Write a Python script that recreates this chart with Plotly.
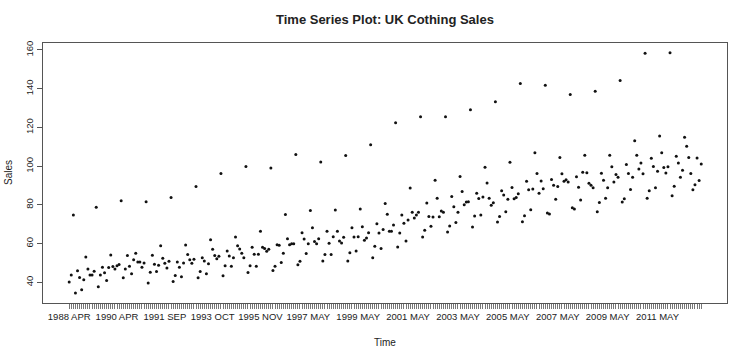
import plotly.graph_objects as go

sales = [
    40.3, 43.8, 74.8, 34.5, 46.0, 42.6, 36.2, 41.4, 53.2, 46.9, 43.9, 43.9, 45.8, 78.8,
    37.8, 43.8, 47.9, 45.0, 41.0, 47.7, 54.2, 48.2, 47.0, 48.6, 49.3, 82.2,
    42.4, 46.9, 53.9, 48.4, 44.5, 51.7, 55.1, 50.5, 50.5, 47.9, 50.1, 81.7,
    39.7, 45.3, 54.1, 49.4, 45.7, 48.9, 59.0, 52.5, 49.9, 47.5, 51.0, 83.9,
    40.5, 43.6, 50.5, 47.9, 42.9, 50.1, 59.4, 54.4, 51.7, 49.9, 52.0, 89.5,
    42.4, 45.7, 52.7, 51.1, 44.5, 49.6, 62.1, 57.1, 53.9, 52.2, 53.5, 96.2,
    43.5, 48.6, 56.3, 53.7, 48.4, 52.7, 63.5, 58.9, 57.3, 55.1, 52.7, 99.8,
    45.1, 48.6, 58.2, 54.6, 48.4, 54.6, 66.4, 58.2, 57.5, 56.1, 57.1, 99.1,
    46.2, 48.4, 59.5, 59.2, 50.3, 55.1, 75.1, 62.6, 59.5, 60.0, 60.0, 106.0,
    49.1, 51.0, 65.7, 62.4, 54.9, 60.0, 77.2, 68.3, 61.1, 60.0, 62.6, 102.2,
    51.1, 54.4, 66.4, 60.2, 54.4, 63.6, 77.4, 66.4, 61.4, 60.4, 63.3, 105.5,
    51.1, 55.4, 68.3, 63.5, 56.3, 63.6, 77.9, 68.8, 61.8, 63.0, 65.7, 111.1,
    52.7, 58.7, 70.3, 65.5, 57.5, 67.4, 80.7, 75.2, 66.4, 66.4, 69.7, 122.5,
    58.3, 65.5, 74.8, 70.5, 61.4, 72.2, 88.8, 76.3, 73.3, 74.8, 76.3, 125.5,
    63.5, 66.9, 81.0, 74.1, 69.0, 73.8, 92.8, 83.5, 73.9, 76.9, 76.3, 125.5,
    66.1, 69.1, 84.4, 79.1, 71.0, 76.2, 94.7, 87.0, 80.1, 81.5, 81.7, 129.1,
    68.6, 74.3, 86.1, 83.4, 74.8, 84.1, 99.5, 91.4, 83.5, 79.9, 81.1, 133.3,
    71.2, 74.1, 87.3, 85.2, 76.5, 83.0, 102.1, 89.0, 83.2, 83.9, 85.8, 142.7,
    71.4, 74.4, 92.3, 87.8, 77.5, 88.2, 106.9, 96.2, 86.1, 92.4, 88.4, 141.8,
    75.9, 75.3, 93.1, 90.2, 83.0, 89.5, 104.5, 96.1, 92.3, 93.0, 91.8, 137.0,
    78.6, 77.9, 94.5, 89.2, 82.5, 96.9, 105.7, 96.6, 91.2, 90.2, 88.9, 138.7,
    76.5, 81.3, 96.4, 92.8, 83.5, 88.9, 105.7, 99.7, 91.8, 95.7, 94.3, 144.2,
    81.5, 83.2, 100.9, 96.2, 88.0, 94.3, 113.2, 105.7, 98.6, 101.7, 96.1, 158.3,
    83.5, 87.3, 104.1, 99.8, 88.9, 97.4, 115.6, 107.0, 99.3, 96.5, 99.7, 158.6,
    84.7, 89.6, 105.1, 101.7, 94.3, 97.9, 114.9, 110.3, 104.5, 96.2, 87.8, 90.4,
    104.3, 92.6, 101.2,
]

tick_index = [0, 23, 46, 69, 92, 115, 139, 163, 187, 211, 235, 259, 283]
tick_text = ["1988 APR", "1990 APR", "1991 SEP", "1993 OCT", "1995 NOV", "1997 MAY",
             "1999 MAY", "2001 MAY", "2003 MAY", "2005 MAY", "2007 MAY", "2009 MAY",
             "2011 MAY"]

y_ticks = [40, 60, 80, 100, 120, 140, 160]

n = len(sales)
xs = list(range(n))
label_map = dict(zip(tick_index, tick_text))
all_ticktext = [label_map.get(i, "") for i in xs]

FONT = "Liberation Sans, Arial, sans-serif"
TXT = "#222222"
LINE = "#555555"

fig = go.Figure()
fig.add_trace(go.Scatter(
    x=xs, y=sales, mode="markers",
    marker=dict(color="#111111", size=3, symbol="circle", line=dict(width=0)),
    hoverinfo="x+y", showlegend=False,
))

fig.update_layout(
    width=750, height=358,
    margin=dict(l=43, r=23, t=43, b=55, autoexpand=False),
    paper_bgcolor="white", plot_bgcolor="white",
    font=dict(family=FONT, size=10, color=TXT),
    showlegend=False,
    annotations=[
        dict(text="<b>Time Series Plot: UK Cothing Sales</b>", xref="paper", yref="paper",
             x=0.5, y=1, yanchor="middle", yshift=24, showarrow=False,
             font=dict(size=13, family=FONT, color=TXT)),
        dict(text="Time", xref="paper", yref="paper", x=0.5, y=0, yanchor="middle",
             yshift=-39, showarrow=False, font=dict(size=10, family=FONT, color=TXT)),
        dict(text="Sales", xref="paper", yref="paper", x=0, y=0.5, xanchor="center",
             xshift=-35, textangle=-90, showarrow=False,
             font=dict(size=10, family=FONT, color=TXT)),
    ],
)

fig.update_xaxes(
    range=[-12.6, 316.4], tickmode="array", tickvals=xs, ticktext=all_ticktext,
    ticks="outside", ticklen=5, tickwidth=1, tickcolor="#777777",
    showline=True, linecolor=LINE, linewidth=1, mirror=True,
    showgrid=False, zeroline=False, tickangle=0, automargin=False,
    tickfont=dict(size=9.5, family=FONT, color=TXT),
)
fig.update_yaxes(
    range=[29.4, 163.6], tickmode="array", tickvals=y_ticks,
    ticktext=[str(v) for v in y_ticks],
    ticks="outside", ticklen=5, tickwidth=1, tickcolor=LINE,
    showline=True, linecolor=LINE, linewidth=1, mirror=True,
    showgrid=False, zeroline=False, tickangle=-90, automargin=False,
    tickfont=dict(size=9.5, family=FONT, color=TXT),
)

fig.write_html("out.html", config={"displayModeBar": False},
               post_script="document.body.style.margin='0';")
